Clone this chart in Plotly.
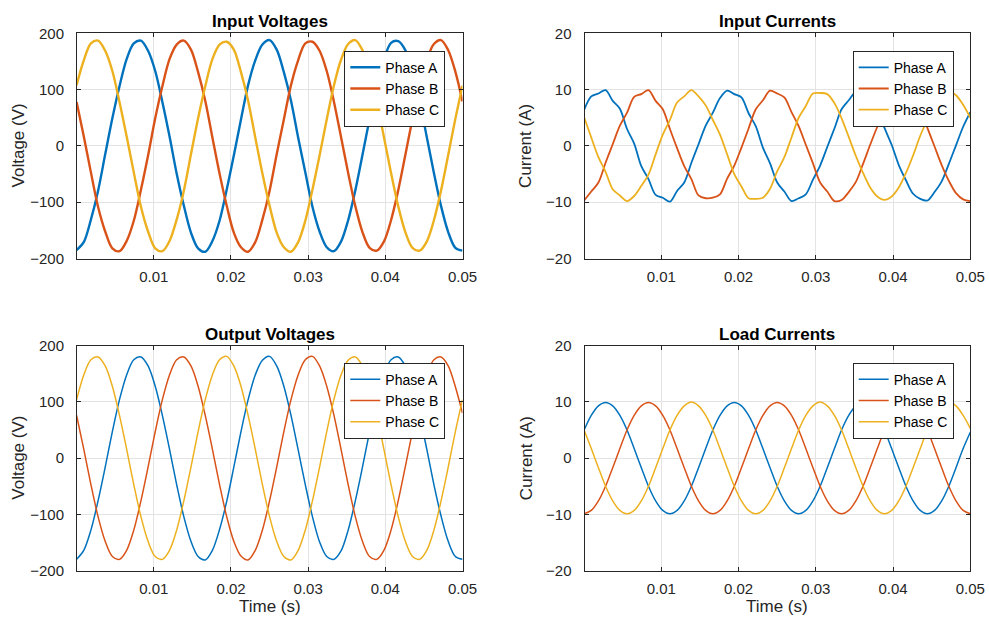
import plotly.graph_objects as go

# ---------------- data ----------------
time_ms = [0.000, 0.926, 1.852, 2.778, 3.704, 4.630, 5.556, 6.481, 7.407, 8.333,
           9.259, 10.185, 11.111, 12.037, 12.963, 13.889, 14.815, 15.741, 16.667, 17.593,
           18.519, 19.444, 20.370, 21.296, 22.222, 23.148, 24.074, 25.000, 25.926, 26.852,
           27.778, 28.704, 29.630, 30.556, 31.481, 32.407, 33.333, 34.259, 35.185, 36.111,
           37.037, 37.963, 38.889, 39.815, 40.741, 41.667, 42.593, 43.519, 44.444, 45.370,
           46.296, 47.222, 48.148, 49.074, 50.000]

phase_names = ["Phase A", "Phase B", "Phase C"]
phase_colors = ["#0072BD", "#D95319", "#EDB120"]

# Input voltages (V)
in_v_a = [-185, -171, -131, -80, -15, 49, 106, 154, 182, 187, 169, 133, 78, 17, -49, -106, -154, -182,
          -188, -169, -133, -78, -17, 47, 108, 152, 180, 188, 171, 131, 80, 15, -47, -108, -152, -180,
          -187, -170, -132, -79, -16, 48, 107, 153, 183, 186, 170, 132, 79, 16, -48, -107, -153, -181,
          -186]
in_v_b = [78, 17, -47, -108, -152, -182, -187, -169, -133, -78, -17, 49, 106, 154, 180, 187, 171, 131,
          80, 15, -49, -106, -154, -180, -188, -171, -131, -80, -15, 47, 108, 152, 182, 185, 169, 133,
          79, 16, -48, -107, -153, -181, -186, -170, -132, -79, -16, 48, 107, 153, 181, 188, 170, 132,
          79]
in_v_c = [108, 152, 182, 187, 169, 133, 78, 17, -47, -108, -152, -182, -187, -169, -131, -80, -15, 49,
          106, 154, 180, 185, 171, 131, 80, 15, -49, -106, -154, -180, -188, -171, -133, -78, -17, 47,
          107, 153, 181, 188, 170, 132, 79, 16, -48, -107, -153, -181, -186, -170, -132, -79, -16, 48,
          107]

# Input currents (A)
in_i_a = [6.4, 8.8, 9.3, 9.9, 8.0, 6.6, 3.0, 0.4, -3.6, -5.9, -8.7, -9.2, -9.9, -8.0, -6.5, -3.0, 0.3, 3.6,
          5.9, 8.5, 9.8, 9.2, 8.6, 5.8, 3.5, -0.3, -3.1, -6.5, -8.1, -9.8, -9.3, -8.6, -6.0, -3.5, -0.2, 3.1,
          6.5, 8.1, 9.6, 9.6, 8.2, 6.4, 3.2, 0.2, -3.4, -6.1, -8.5, -9.4, -9.7, -8.2, -6.3, -3.2, 0.1, 3.4,
          6.0]
in_i_b = [-9.7, -8.1, -6.5, -3.0, 0.3, 3.6, 5.9, 8.7, 9.2, 9.9, 8.0, 6.5, 3.0, -0.4, -3.6, -5.9, -8.8, -9.3,
          -9.2, -8.6, -5.8, -3.5, -0.3, 3.1, 6.5, 8.1, 9.8, 9.3, 8.6, 6.0, 3.5, 0.2, -3.1, -6.5, -8.1, -9.8,
          -9.6, -8.2, -6.4, -3.2, 0.2, 3.4, 6.1, 8.5, 9.4, 9.7, 8.2, 6.3, 3.2, -0.1, -3.4, -6.2, -8.4, -9.5,
          -9.8]
in_i_c = [5.1, 1.5, -2.0, -4.6, -7.7, -8.8, -9.8, -8.9, -7.1, -5.1, -1.5, 2.0, 4.6, 7.7, 8.8, 9.9, 8.8, 7.2,
          4.6, 2.0, -1.5, -5.0, -7.2, -9.3, -9.4, -9.2, -7.6, -4.5, -2.0, 1.5, 5.0, 7.1, 9.3, 9.4, 9.2, 7.6,
          4.9, 1.6, -1.8, -4.8, -7.4, -9.0, -9.6, -9.0, -7.4, -4.8, -1.7, 1.8, 4.7, 7.5, 9.0, 9.7, 9.0, 7.3,
          5.0]

# Output voltages (V)
out_v_a = [-180, -164, -128, -76, -16, 47, 104, 148, 175, 180, 164, 128, 76, 16, -47, -104, -148, -175,
           -181, -164, -127, -77, -16, 47, 104, 148, 174, 181, 164, 128, 76, 15, -47, -104, -149, -175,
           -180, -165, -128, -76, -16, 47, 104, 149, 175, 180, 164, 128, 76, 16, -47, -103, -148, -175,
           -180]
out_v_b = [76, 16, -47, -104, -148, -175, -180, -164, -128, -76, -16, 47, 104, 148, 175, 180, 164, 128,
           76, 16, -47, -104, -148, -174, -181, -164, -128, -76, -16, 47, 104, 148, 175, 181, 164, 128,
           77, 16, -47, -104, -148, -175, -180, -164, -128, -76, -15, 47, 104, 148, 175, 180, 164, 127,
           80]
out_v_c = [104, 148, 175, 180, 164, 128, 76, 16, -47, -104, -148, -175, -180, -164, -128, -76, -16, 47,
           104, 148, 175, 181, 164, 128, 76, 16, -47, -104, -148, -175, -181, -164, -128, -76, -16, 47,
           104, 148, 174, 180, 164, 128, 77, 16, -47, -104, -148, -175, -180, -164, -128, -76, -16, 47,
           104]

# Load currents (A)
load_i_a = [5.0, 7.6, 9.3, 9.9, 9.3, 7.6, 5.0, 1.7, -1.7, -5.0, -7.6, -9.3, -9.9, -9.3, -7.6, -5.0, -1.7, 1.7,
            5.0, 7.6, 9.3, 9.9, 9.3, 7.6, 5.0, 1.7, -1.7, -5.0, -7.6, -9.3, -9.9, -9.3, -7.6, -5.0, -1.7, 1.7,
            5.0, 7.6, 9.3, 9.9, 9.3, 7.6, 5.0, 1.7, -1.7, -5.0, -7.6, -9.3, -9.9, -9.3, -7.6, -5.0, -1.7, 1.7,
            4.6]
load_i_b = [-9.9, -9.3, -7.6, -5.0, -1.7, 1.7, 5.0, 7.6, 9.3, 9.9, 9.3, 7.6, 5.0, 1.7, -1.7, -5.0, -7.6, -9.3,
            -9.9, -9.3, -7.6, -5.0, -1.7, 1.7, 5.0, 7.6, 9.3, 9.9, 9.3, 7.6, 5.0, 1.7, -1.7, -5.0, -7.6, -9.3,
            -9.9, -9.3, -7.6, -5.0, -1.7, 1.7, 5.0, 7.6, 9.3, 9.9, 9.3, 7.6, 5.0, 1.7, -1.7, -5.0, -7.6, -9.3,
            -9.9]
load_i_c = [5.0, 1.7, -1.7, -5.0, -7.6, -9.3, -9.9, -9.3, -7.6, -5.0, -1.7, 1.7, 5.0, 7.6, 9.3, 10.0, 9.3, 7.6,
            5.0, 1.7, -1.7, -5.0, -7.6, -9.3, -9.9, -9.3, -7.6, -5.0, -1.7, 1.7, 5.0, 7.6, 9.3, 10.0, 9.3, 7.6,
            5.0, 1.7, -1.7, -5.0, -7.6, -9.3, -9.9, -9.3, -7.6, -5.0, -1.7, 1.7, 5.0, 7.6, 9.3, 10.0, 9.3, 7.6,
            5.3]

panel_titles = ["Input Voltages", "Input Currents", "Output Voltages", "Load Currents"]
panel_series = [[in_v_a, in_v_b, in_v_c], [in_i_a, in_i_b, in_i_c],
                [out_v_a, out_v_b, out_v_c], [load_i_a, load_i_b, load_i_c]]
y_titles = ["Voltage (V)", "Current (A)", "Voltage (V)", "Current (A)"]
x_title = "Time (s)"
y_ranges = [[-200, 200], [-20, 20], [-200, 200], [-20, 20]]
y_ticks = [[-200, -100, 0, 100, 200], [-20, -10, 0, 10, 20],
           [-200, -100, 0, 100, 200], [-20, -10, 0, 10, 20]]
x_ticks = [0.01, 0.02, 0.03, 0.04, 0.05]
x_tick_text = ["0.01", "0.02", "0.03", "0.04", "0.05"]
line_widths = [2.4, 1.8, 1.5, 1.5]

# ---------------- figure ----------------
time_s = [t / 1000.0 for t in time_ms]
W, H = 989, 628
FONT = "Liberation Sans, Arial, Helvetica, sans-serif"
AXC = "#262626"

x_px = [[77, 462.5], [584.5, 970.3]]
y_px = [[33.3, 258.5], [345.7, 570.6]]
x_domains = [[a / W, b / W] for a, b in x_px]
y_domains = [[1 - b / H, 1 - a / H] for a, b in y_px]
ytitle_x_px = [18.5, 526.0]
xtitle_y_px = 606.0

fig = go.Figure()
layout = dict(
    width=W, height=H,
    margin=dict(l=0, r=0, t=0, b=0, autoexpand=False),
    paper_bgcolor="white", plot_bgcolor="white",
    font=dict(family=FONT, color=AXC, size=15),
    annotations=[],
)

for p in range(4):
    row, col = divmod(p, 2)
    sfx = "" if p == 0 else str(p + 1)
    leg = "legend" if p == 0 else "legend%d" % (p + 1)
    for s in range(3):
        fig.add_trace(go.Scatter(
            x=time_s, y=panel_series[p][s], mode="lines",
            name=phase_names[s], legend=leg,
            line=dict(color=phase_colors[s], width=line_widths[p], shape="spline", smoothing=0.9),
            xaxis="x" + sfx, yaxis="y" + sfx,
        ))
    common = dict(showline=True, mirror="ticks", linecolor=AXC, linewidth=1,
                  ticks="inside", ticklen=4, tickcolor=AXC, tickwidth=1,
                  showgrid=True, gridcolor="#e3e3e3", gridwidth=1, zeroline=False,
                  automargin=False,
                  tickfont=dict(family=FONT, size=15, color=AXC))
    layout["xaxis" + sfx] = dict(
        common, domain=x_domains[col], anchor="y" + sfx,
        range=[0.00005, 0.05], tickvals=x_ticks, ticktext=x_tick_text,
        ticklabelstandoff=4,
    )
    layout["yaxis" + sfx] = dict(
        common, domain=y_domains[row], anchor="x" + sfx,
        range=y_ranges[p], tickvals=y_ticks[p], ticklabelstandoff=9,
    )
    layout[leg] = dict(
        x=(445.3 if col == 0 else 953.7) / W,
        y=1 - ((50.7 if row == 0 else 362.7) / H),
        xanchor="right", yanchor="top",
        bgcolor="white", bordercolor=AXC, borderwidth=1,
        font=dict(family=FONT, size=14, color="#000000"),
        tracegroupgap=0, itemwidth=30,
    )
    # panel title
    layout["annotations"].append(dict(
        text="<b>%s</b>" % panel_titles[p],
        xref="paper", yref="paper",
        x=sum(x_domains[col]) / 2, y=y_domains[row][1],
        xanchor="center", yanchor="bottom", yshift=0, showarrow=False,
        font=dict(family=FONT, size=17, color="#000000"),
    ))
    # y-axis title
    layout["annotations"].append(dict(
        text=y_titles[p], textangle=-90,
        xref="paper", yref="paper",
        x=ytitle_x_px[col] / W, y=sum(y_domains[row]) / 2,
        xanchor="center", yanchor="middle", showarrow=False,
        font=dict(family=FONT, size=17, color=AXC),
    ))
    # x-axis title (bottom row only)
    if row == 1:
        layout["annotations"].append(dict(
            text=x_title,
            xref="paper", yref="paper",
            x=sum(x_domains[col]) / 2, y=1 - xtitle_y_px / H,
            xanchor="center", yanchor="middle", showarrow=False,
            font=dict(family=FONT, size=17, color=AXC),
        ))

fig.update_layout(**layout)
fig.write_html("out.html",
               config={"displayModeBar": False},
               post_script="document.body.style.margin='0px';document.body.style.overflow='hidden';")
